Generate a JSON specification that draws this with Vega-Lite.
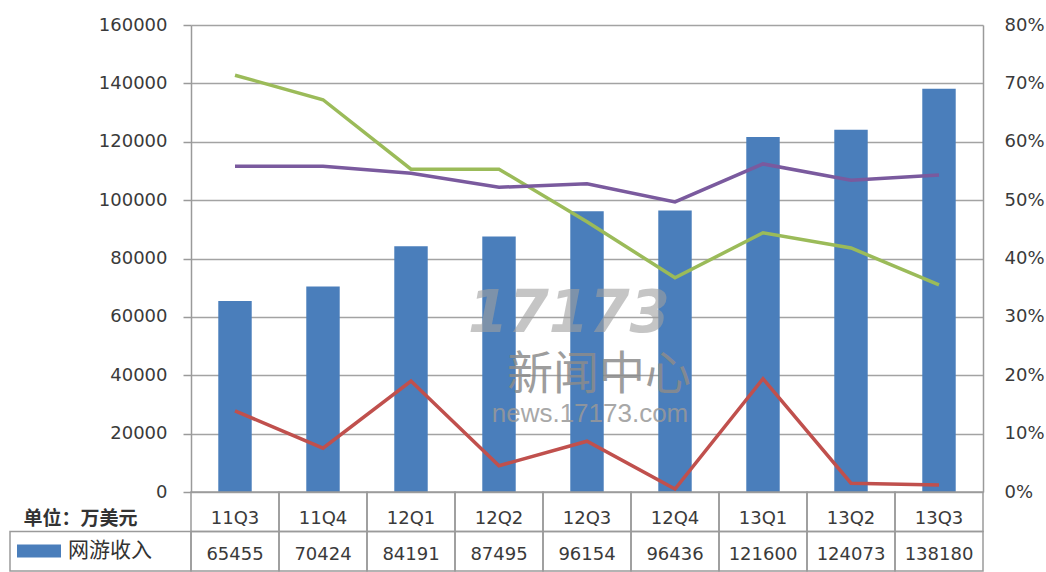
{
  "$schema": "https://vega.github.io/schema/vega-lite/v6.json",
  "padding": {"left": 9, "top": 16, "right": 0, "bottom": 0},
  "config": {
    "view": {"stroke": null},
    "font": "DejaVu Sans",
    "text": {"font": "DejaVu Sans"}
  },
  "datasets": {
    "quarters": [
      {"季度": "11Q3", "网游收入": 65455, "rateA": 0.714, "rateB": 0.558, "rateC": 0.139},
      {"季度": "11Q4", "网游收入": 70424, "rateA": 0.672, "rateB": 0.558, "rateC": 0.075},
      {"季度": "12Q1", "网游收入": 84191, "rateA": 0.553, "rateB": 0.546, "rateC": 0.19},
      {"季度": "12Q2", "网游收入": 87495, "rateA": 0.553, "rateB": 0.522, "rateC": 0.045},
      {"季度": "12Q3", "网游收入": 96154, "rateA": 0.463, "rateB": 0.528, "rateC": 0.087},
      {"季度": "12Q4", "网游收入": 96436, "rateA": 0.367, "rateB": 0.497, "rateC": 0.005},
      {"季度": "13Q1", "网游收入": 121600, "rateA": 0.444, "rateB": 0.562, "rateC": 0.194},
      {"季度": "13Q2", "网游收入": 124073, "rateA": 0.418, "rateB": 0.534, "rateC": 0.015},
      {"季度": "13Q3", "网游收入": 138180, "rateA": 0.355, "rateB": 0.543, "rateC": 0.012}
    ]
  },
  "columns": 2,
  "spacing": 0,
  "bounds": "flush",
  "concat": [
    {
      "width": 181,
      "height": 467,
      "data": {"values": []},
      "mark": {"type": "text"},
      "encoding": {}
    },
    {
      "width": 792,
      "height": 467,
      "data": {"name": "quarters"},
      "layer": [
        {
          "layer": [
            {
              "mark": {"type": "bar", "color": "#4a7ebb"},
              "encoding": {
                "x": {"field": "季度", "type": "nominal", "sort": null, "scale": {"paddingInner": 0.62, "paddingOuter": 0.31}, "axis": null},
                "y": {
                  "field": "网游收入", "type": "quantitative",
                  "scale": {"domain": [0, 160000]},
                  "axis": {
                    "title": null,
                    "values": [0, 20000, 40000, 60000, 80000, 100000, 120000, 140000, 160000],
                    "format": "d",
                    "grid": true, "gridColor": "#a3a3a3", "gridWidth": 1.5,
                    "domainColor": "#9a9a9a", "domainWidth": 1.5,
                    "tickColor": "#9a9a9a", "tickWidth": 1.5, "tickSize": 8,
                    "labelPadding": 16, "labelFontSize": 18, "labelColor": "#3a3a3a", "labelFont": "DejaVu Sans"
                  }
                }
              }
            },
            {
              "data": {"values": [{"水印": "17173"}]},
              "mark": {"type": "text", "fontSize": 58, "fontWeight": "bold", "fontStyle": "italic", "color": "#a0a0a0", "opacity": 0.6, "dx": -18},
              "encoding": {"x": {"datum": "12Q3"}, "y": {"datum": 60500}, "text": {"field": "水印"}}
            },
            {
              "data": {"values": [{"水印": "新闻中心"}]},
              "mark": {"type": "text", "font": "Noto Sans CJK SC", "fontSize": 46, "color": "#8c8c8c", "opacity": 0.85, "dx": 12},
              "encoding": {"x": {"datum": "12Q3"}, "y": {"datum": 40000}, "text": {"field": "水印"}}
            },
            {
              "data": {"values": [{"水印": "news.17173.com"}]},
              "mark": {"type": "text", "font": "Liberation Sans", "fontSize": 26, "color": "#999999", "opacity": 0.85, "dx": 3},
              "encoding": {"x": {"datum": "12Q3"}, "y": {"datum": 26800}, "text": {"field": "水印"}}
            }
          ]
        },
        {
          "layer": [
            {
              "mark": {"type": "line", "color": "#9bbb59", "strokeWidth": 3.5},
              "encoding": {
                "x": {"field": "季度", "type": "nominal", "sort": null},
                "y": {
                  "field": "rateA", "type": "quantitative",
                  "scale": {"domain": [0, 0.8]},
                  "axis": {
                    "orient": "right", "title": null,
                    "values": [0, 0.1, 0.2, 0.3, 0.4, 0.5, 0.6, 0.7, 0.8],
                    "format": ".0%", "grid": false, "ticks": false,
                    "domainColor": "#9a9a9a", "domainWidth": 1.5,
                    "labelPadding": 21, "labelFontSize": 18, "labelColor": "#3a3a3a", "labelFont": "DejaVu Sans"
                  }
                }
              }
            },
            {
              "mark": {"type": "line", "color": "#7a5a9e", "strokeWidth": 3.5},
              "encoding": {
                "x": {"field": "季度", "type": "nominal", "sort": null},
                "y": {"field": "rateB", "type": "quantitative", "axis": {"title": null}}
              }
            },
            {
              "mark": {"type": "line", "color": "#c0504d", "strokeWidth": 3.5},
              "encoding": {
                "x": {"field": "季度", "type": "nominal", "sort": null},
                "y": {"field": "rateC", "type": "quantitative", "axis": {"title": null}}
              }
            }
          ]
        }
      ],
      "resolve": {"scale": {"y": "independent"}}
    },
    {
      "width": 181,
      "height": 79,
      "data": {"values": [{"行": "季度", "标签": "单位：万美元"}, {"行": "网游收入", "标签": ""}]},
      "encoding": {
        "y": {"field": "行", "type": "nominal", "scale": {"domain": ["季度", "网游收入"], "paddingInner": 0, "paddingOuter": 0}, "axis": null}
      },
      "layer": [
        {
          "transform": [{"filter": "datum['行'] === '网游收入'"}],
          "mark": {"type": "rect", "fill": "transparent", "stroke": "#9a9a9a", "strokeWidth": 1.5}
        },
        {
          "transform": [{"filter": "datum['行'] === '季度'"}],
          "mark": {"type": "text", "font": "Noto Sans CJK SC", "fontSize": 19, "fontWeight": "bold", "color": "#333333", "dx": -20, "dy": 7},
          "encoding": {"text": {"field": "标签"}}
        },
        {
          "transform": [{"filter": "false"}],
          "mark": {"type": "rect"},
          "encoding": {
            "color": {
              "datum": "网游收入",
              "scale": {"range": ["#4a7ebb"]},
              "legend": {
                "orient": "none", "legendX": 7, "legendY": 504, "padding": 0,
                "title": null,
                "symbolType": "M-1,-0.3H1V0.3H-1Z", "symbolSize": 1936, "symbolStrokeWidth": 0, "symbolOpacity": 1,
                "labelFont": "Noto Sans CJK SC", "labelFontSize": 21, "labelColor": "#333333", "labelOffset": 7
              }
            }
          }
        }
      ]
    },
    {
      "width": 792,
      "height": 79,
      "data": {"name": "quarters"},
      "encoding": {
        "x": {"field": "季度", "type": "nominal", "sort": null, "scale": {"paddingInner": 0, "paddingOuter": 0}, "axis": null}
      },
      "layer": [
        {
          "transform": [{"fold": ["季度", "网游收入"], "as": ["行", "值"]}],
          "mark": {"type": "rect", "fill": "transparent", "stroke": "#9a9a9a", "strokeWidth": 1.5},
          "encoding": {
            "y": {"field": "行", "type": "nominal", "scale": {"domain": ["季度", "网游收入"], "paddingInner": 0, "paddingOuter": 0}, "axis": null}
          }
        },
        {
          "mark": {"type": "text", "fontSize": 18, "color": "#3a3a3a", "dy": 7},
          "encoding": {"y": {"datum": "季度"}, "text": {"field": "季度", "type": "nominal"}}
        },
        {
          "mark": {"type": "text", "fontSize": 18, "color": "#3a3a3a", "dy": 4},
          "encoding": {"y": {"datum": "网游收入"}, "text": {"field": "网游收入", "type": "nominal"}}
        }
      ]
    }
  ]
}
